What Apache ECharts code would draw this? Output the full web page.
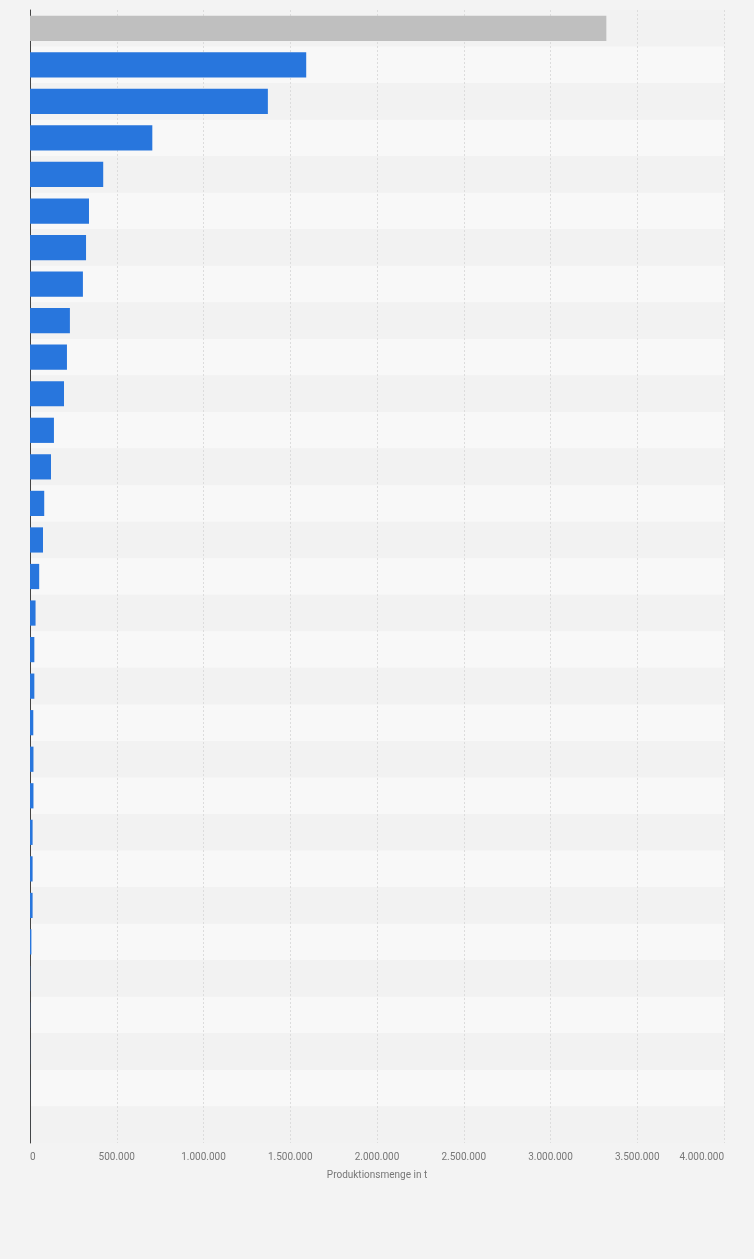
<!DOCTYPE html>
<html>
<head>
<meta charset="utf-8">
<script src="https://cdn.jsdelivr.net/npm/echarts@6/dist/echarts.min.js"></script>
<style>
html,body{margin:0;padding:0;background:#f3f3f3;}
#chart{width:754px;height:1259px;}
</style>
</head>
<body>
<div id="chart"></div>
<script>
// Row labels are not shown in the reference; rows kept in order from top.
const categories = ['1','2','3','4','5','6','7','8','9','10','11','12','13','14','15','16','17','18','19','20','21','22','23','24','25','26','27','28','29','30','31'];
const values = [3322000, 1592000, 1371000, 705000, 422000, 340000, 323000, 305000, 230000, 213000, 196000, 138000, 121000, 82000, 75000, 53000, 32000, 25000, 25000, 19000, 20000, 20000, 15000, 15000, 15000, 8000, 1500, 1000, 600, 400, 200];
const highlightIndex = [0];
const axisTicks = [0, 500000, 1000000, 1500000, 2000000, 2500000, 3000000, 3500000, 4000000];
const axisName = 'Produktionsmenge in t';

const fmt = v => String(v).replace(/\B(?=(\d{3})+(?!\d))/g, '.');

const chart = echarts.init(document.getElementById('chart'));
chart.setOption({
  backgroundColor: '#f3f3f3',
  animation: false,
  grid: {left: 30, right: 30, top: 10, bottom: 116, containLabel: false},
  xAxis: {
    type: 'value',
    min: axisTicks[0],
    max: axisTicks[axisTicks.length - 1],
    interval: axisTicks[1] - axisTicks[0],
    name: axisName,
    nameLocation: 'middle',
    nameGap: 27,
    nameTextStyle: {color: '#777', fontSize: 10, fontFamily: 'Roboto'},
    axisLine: {show: false},
    axisTick: {show: false},
    axisLabel: {
      color: '#777', fontSize: 10, fontFamily: 'Roboto', margin: 9,
      formatter: fmt, alignMinLabel: 'left', alignMaxLabel: 'right'
    },
    splitLine: {show: true, lineStyle: {color: '#dcdcdc', type: [2, 2], width: 1}}
  },
  yAxis: {
    type: 'category',
    data: categories,
    inverse: true,
    axisLine: {show: true, lineStyle: {color: '#444', width: 1}},
    axisTick: {show: false},
    axisLabel: {show: false},
    splitArea: {show: true, areaStyle: {color: ['#f2f2f2', '#f8f8f8']}}
  },
  series: [{
    type: 'bar',
    data: values.map((v, i) => ({
      value: v,
      itemStyle: {color: highlightIndex.includes(i) ? '#bfbfbf' : '#2876dd'}
    })),
    barCategoryGap: '31%'
  }]
});
</script>
</body>
</html>
